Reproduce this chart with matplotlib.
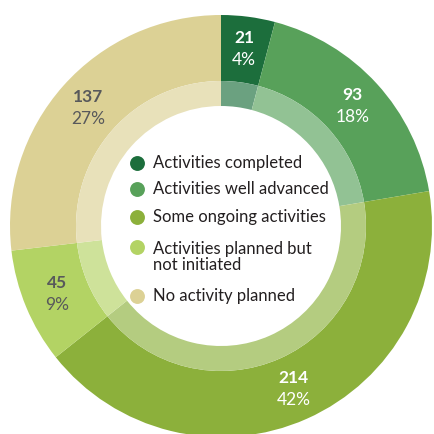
import matplotlib
matplotlib.use("Agg")
import matplotlib.pyplot as plt
import numpy as np

categories = ["Activities completed", "Activities well advanced", "Some ongoing activities",
              "Activities planned but\nnot initiated", "No activity planned"]
counts = [21, 93, 214, 45, 137]
percents = [4, 18, 42, 9, 27]
colors = ["#1c6e3c", "#58a15a", "#8cb03b", "#b3d364", "#dcd195"]
label_colors = ["white", "white", "white", "#58595b", "#58595b"]

plt.rcParams["font.family"] = ["Lato", "DejaVu Sans"]

fig = plt.figure(figsize=(4.34, 4.34), dpi=100)
ax = fig.add_axes([0, 0, 1, 1])

cx, cy = 221, 208
r_out, w_out = 211, 66
r_in, w_in = 145, 25

ax.pie(counts, colors=colors, startangle=90, counterclock=False, radius=r_out,
       center=(cx, cy), wedgeprops=dict(width=w_out, linewidth=0), frame=True)


def lighten(c, t=0.35):
    rgb = np.array(matplotlib.colors.to_rgb(c))
    return tuple(rgb + (1 - rgb) * t)


# lighter inner ring: same colours washed towards white
ax.pie(counts, colors=[lighten(c) for c in colors], startangle=90, counterclock=False,
       radius=r_in, center=(cx, cy), wedgeprops=dict(width=w_in, linewidth=0), frame=True)
ax.set_xlim(0, 434)
ax.set_ylim(0, 434)
ax.set_aspect("equal")
ax.axis("off")

total = sum(counts)
start = 90.0
r_lab = 178
for n, p, col in zip(counts, percents, label_colors):
    sweep = 360.0 * n / total
    mid = np.deg2rad(start - sweep / 2)
    x = cx + r_lab * np.cos(mid)
    y = cy + r_lab * np.sin(mid)
    ax.text(x, y + 11, str(n), ha="center", va="center", color=col, fontsize=12.5, fontweight="bold")
    ax.text(x, y - 11, f"{p}%", ha="center", va="center", color=col, fontsize=12.5)
    start -= sweep

# legend inside the hole
leg_y = [271, 245, 217, 187, 138]
text_y = [271, 245, 217, 177, 138]
for lab, col, ly, ty in zip(categories, colors, leg_y, text_y):
    ax.scatter([137], [ly], s=115, color=col, linewidths=0, zorder=5)
    ax.text(153, ty, lab, ha="left", va="center", color="#231f20", fontsize=12,
            linespacing=0.95)

fig.savefig("out.png", dpi=100)
